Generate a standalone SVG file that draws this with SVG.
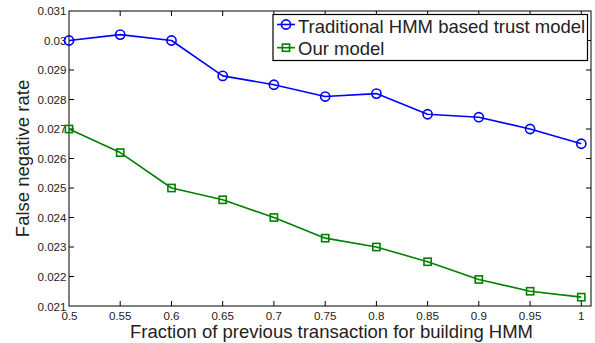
<svg xmlns="http://www.w3.org/2000/svg" width="595" height="343" viewBox="0 0 595 343">
  <style>
    .axis { fill: none; stroke: #000; stroke-width: 1; }
    .tick { stroke: #000; stroke-width: 1; }
    .ticklbl { font-family: "Liberation Sans", Arial, sans-serif; font-size: 11.6px; fill: #222; }
    .lbl { font-family: "Liberation Sans", Arial, sans-serif; font-size: 18.5px; fill: #222; }
    .blue { fill: none; stroke: #0000ff; stroke-width: 1.6; stroke-linejoin: round; }
    .green { fill: none; stroke: #008000; stroke-width: 1.6; stroke-linejoin: round; }
  </style>
  <defs>
    <circle id="mCirc" r="4.6" fill="none" stroke="#0000ff" stroke-width="1.6"/>
    <rect id="mSq" x="-3.6" y="-3.6" width="7.2" height="7.2" fill="none" stroke="#008000" stroke-width="1.6"/>
  </defs>
  <rect width="595" height="343" fill="#fff"/>

  <!-- axes frame and ticks -->
  <g id="axes">
    <rect class="axis" x="69" y="11" width="522" height="295"/>
    <g class="tick">
      <!-- x ticks, bottom and top -->
      <path d="M120.2 306v-5M171.5 306v-5M222.7 306v-5M273.9 306v-5M325.2 306v-5M376.4 306v-5M427.6 306v-5M478.8 306v-5M530.1 306v-5M581.3 306v-5"/>
      <path d="M120.2 11v5M171.5 11v5M222.7 11v5M273.9 11v5M325.2 11v5M376.4 11v5M427.6 11v5M478.8 11v5M530.1 11v5M581.3 11v5"/>
      <!-- y ticks, left and right -->
      <path d="M69 40.5h5M69 70h5M69 99.5h5M69 129h5M69 158.5h5M69 188h5M69 217.5h5M69 247h5M69 276.5h5"/>
      <path d="M591 40.5h-5M591 70h-5M591 99.5h-5M591 129h-5M591 158.5h-5M591 188h-5M591 217.5h-5M591 247h-5M591 276.5h-5"/>
    </g>
    <g class="ticklbl" text-anchor="end">
      <text x="66.5" y="15.2">0.031</text>
      <text x="66.5" y="44.7">0.03</text>
      <text x="66.5" y="74.2">0.029</text>
      <text x="66.5" y="103.7">0.028</text>
      <text x="66.5" y="133.2">0.027</text>
      <text x="66.5" y="162.7">0.026</text>
      <text x="66.5" y="192.2">0.025</text>
      <text x="66.5" y="221.7">0.024</text>
      <text x="66.5" y="251.2">0.023</text>
      <text x="66.5" y="280.7">0.022</text>
      <text x="66.5" y="310.5">0.021</text>
    </g>
    <g class="ticklbl" text-anchor="middle">
      <text x="69.5" y="320">0.5</text>
      <text x="120.2" y="320">0.55</text>
      <text x="171.5" y="320">0.6</text>
      <text x="222.7" y="320">0.65</text>
      <text x="273.9" y="320">0.7</text>
      <text x="325.2" y="320">0.75</text>
      <text x="376.4" y="320">0.8</text>
      <text x="427.6" y="320">0.85</text>
      <text x="478.8" y="320">0.9</text>
      <text x="530.1" y="320">0.95</text>
      <text x="581.3" y="320">1</text>
    </g>
    <text class="lbl" x="331.5" y="338.3" text-anchor="middle">Fraction of previous transaction for building HMM</text>
    <text class="lbl" transform="translate(29.3 158.5) rotate(-90)" text-anchor="middle">False negative rate</text>
  </g>

  <!-- data series -->
  <g id="series-traditional">
    <polyline class="blue" points="69,40.5 120.2,34.6 171.5,40.5 222.7,75.9 273.9,84.75 325.2,96.55 376.4,93.6 427.6,114.25 478.8,117.2 530.1,129 581.3,143.75"/>
    <use href="#mCirc" x="69" y="40.5"/>
    <use href="#mCirc" x="120.2" y="34.6"/>
    <use href="#mCirc" x="171.5" y="40.5"/>
    <use href="#mCirc" x="222.7" y="75.9"/>
    <use href="#mCirc" x="273.9" y="84.75"/>
    <use href="#mCirc" x="325.2" y="96.55"/>
    <use href="#mCirc" x="376.4" y="93.6"/>
    <use href="#mCirc" x="427.6" y="114.25"/>
    <use href="#mCirc" x="478.8" y="117.2"/>
    <use href="#mCirc" x="530.1" y="129"/>
    <use href="#mCirc" x="581.3" y="143.75"/>
  </g>
  <g id="series-ours">
    <polyline class="green" points="69,129 120.2,152.6 171.5,188 222.7,199.8 273.9,217.5 325.2,238.15 376.4,247 427.6,261.75 478.8,279.45 530.1,291.25 581.3,297.15"/>
    <use href="#mSq" x="69" y="129"/>
    <use href="#mSq" x="120.2" y="152.6"/>
    <use href="#mSq" x="171.5" y="188"/>
    <use href="#mSq" x="222.7" y="199.8"/>
    <use href="#mSq" x="273.9" y="217.5"/>
    <use href="#mSq" x="325.2" y="238.15"/>
    <use href="#mSq" x="376.4" y="247"/>
    <use href="#mSq" x="427.6" y="261.75"/>
    <use href="#mSq" x="478.8" y="279.45"/>
    <use href="#mSq" x="530.1" y="291.25"/>
    <use href="#mSq" x="581.3" y="297.15"/>
  </g>

  <!-- legend -->
  <g id="legend">
    <rect x="273" y="14.5" width="314.5" height="46" fill="#fff" stroke="#000" stroke-width="1.2"/>
    <line class="blue" x1="277" y1="24.5" x2="295" y2="24.5"/>
    <use href="#mCirc" x="286" y="24.5"/>
    <text class="lbl" x="298" y="33.2">Traditional HMM based trust model</text>
    <line class="green" x1="277" y1="47.7" x2="295" y2="47.7"/>
    <use href="#mSq" x="286" y="47.7"/>
    <text class="lbl" x="298" y="55">Our model</text>
  </g>
</svg>
